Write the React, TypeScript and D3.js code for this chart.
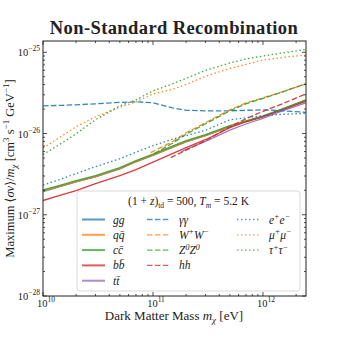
import React from 'react';
import * as d3 from 'd3';

const masses = [1e10, 1.5e10, 2e10, 3e10, 5e10, 7e10, 1e11, 1.5e11, 2e11, 3e11, 5e11, 7e11, 1e12, 1.5e12, 2.45e12];
const ggVals = [1.93e-27, 2.27e-27, 2.54e-27, 2.93e-27, 3.67e-27, 4.49e-27, 5.38e-27, 6.75e-27, 7.9e-27, 9.4e-27, 1.21e-26, 1.40e-26, 1.62e-26, 1.98e-26, 2.55e-26];
const qqVals = [1.95e-27, 2.29e-27, 2.56e-27, 2.95e-27, 3.70e-27, 4.52e-27, 5.42e-27, 6.80e-27, 7.95e-27, 9.45e-27, 1.22e-26, 1.41e-26, 1.63e-26, 1.99e-26, 2.57e-26];
const ccVals = [2.015e-27, 2.355e-27, 2.636e-27, 3.035e-27, 3.805e-27, 4.64e-27, 5.57e-27, 6.98e-27, 8.16e-27, 9.67e-27, 1.247e-26, 1.436e-26, 1.654e-26, 2.015e-26, 2.60e-26];
const bbVals = [1.498e-27, 1.775e-27, 1.987e-27, 2.42e-27, 3.035e-27, 3.595e-27, 4.445e-27, 5.65e-27, 6.70e-27, 8.39e-27, 1.178e-26, 1.396e-26, 1.608e-26, 1.959e-26, 2.49e-26];
const ttMasses = [1.8e11, 2e11, 3e11, 5e11, 7e11, 1e12, 1.5e12, 2.45e12];
const ttVals = [5.9e-27, 6.4e-27, 8.0e-27, 1.10e-26, 1.31e-26, 1.54e-26, 1.9e-26, 2.39e-26];
const aaVals = [2.19e-26, 2.225e-26, 2.256e-26, 2.32e-26, 2.42e-26, 2.455e-26, 2.388e-26, 2.073e-26, 1.931e-26, 1.905e-26, 1.905e-26, 1.931e-26, 1.959e-26, 1.905e-26, 1.825e-26];
const wwMasses = [9.5e10, 1.5e11, 2e11, 3e11, 5e11, 7e11, 1e12, 1.5e12, 2.45e12];
const wwVals = [5.81e-27, 7.93e-27, 1.023e-26, 1.357e-26, 1.959e-26, 2.386e-26, 2.75e-26, 3.257e-26, 4.08e-26];
const zzMasses = [1.03e11, 1.5e11, 2e11, 3e11, 5e11, 7e11, 1e12, 1.5e12, 2.45e12];
const zzVals = [5.65e-27, 7.60e-27, 9.80e-27, 1.319e-26, 1.905e-26, 2.32e-26, 2.71e-26, 3.257e-26, 4.08e-26];
const hhMasses = [1.45e11, 2e11, 3e11, 5e11, 7e11, 1e12, 1.5e12, 2.45e12];
const hhVals = [5.05e-27, 6.24e-27, 8.16e-27, 1.212e-26, 1.519e-26, 1.878e-26, 2.32e-26, 3.077e-26];
const eeVals = [2.32e-27, 2.788e-27, 3.21e-27, 3.914e-27, 4.91e-27, 5.895e-27, 7.085e-27, 8.51e-27, 9.40e-27, 1.098e-26, 1.477e-26, 1.563e-26, 1.654e-26, 1.725e-26, 1.774e-26];
const mmVals = [6.64e-27, 9.40e-27, 1.212e-26, 1.608e-26, 2.10e-26, 2.455e-26, 3.077e-26, 3.496e-26, 4.03e-26, 5.05e-26, 6.33e-26, 7.08e-26, 8.04e-26, 8.63e-26, 9.27e-26];
const tauVals = [5.495e-27, 7.71e-27, 9.94e-27, 1.477e-26, 2.19e-26, 2.60e-26, 3.35e-26, 4.08e-26, 4.77e-26, 5.98e-26, 7.39e-26, 8.27e-26, 9.01e-26, 9.80e-26, 1.082e-25];

const xTickExps = [10, 11, 12];
const yTickExps = [-28, -27, -26, -25];

const C = { blue: '#1f77b4', orange: '#ff7f0e', green: '#2ca02c', red: '#d62728', purple: '#9467bd' };
const DASH = '5.5,2.4';
const DOT = '1.5,2.5';

type Series = { key: string; label: string; xs: number[]; ys: number[]; color: string; dash: string | null; col: number; row: number };

const series: Series[] = [
  { key: 'gg', label: 'gg', xs: masses, ys: ggVals, color: C.blue, dash: null, col: 0, row: 0 },
  { key: 'qq', label: 'qq\u0304', xs: masses, ys: qqVals, color: C.orange, dash: null, col: 0, row: 1 },
  { key: 'cc', label: 'cc\u0304', xs: masses, ys: ccVals, color: C.green, dash: null, col: 0, row: 2 },
  { key: 'bb', label: 'bb\u0304', xs: masses, ys: bbVals, color: C.red, dash: null, col: 0, row: 3 },
  { key: 'tt', label: 'tt\u0304', xs: ttMasses, ys: ttVals, color: C.purple, dash: null, col: 0, row: 4 },
  { key: 'aa', label: 'γγ', xs: masses, ys: aaVals, color: C.blue, dash: DASH, col: 1, row: 0 },
  { key: 'ww', label: 'W', xs: wwMasses, ys: wwVals, color: C.orange, dash: DASH, col: 1, row: 1 },
  { key: 'zz', label: 'Z', xs: zzMasses, ys: zzVals, color: C.green, dash: DASH, col: 1, row: 2 },
  { key: 'hh', label: 'hh', xs: hhMasses, ys: hhVals, color: C.red, dash: DASH, col: 1, row: 3 },
  { key: 'ee', label: 'e', xs: masses, ys: eeVals, color: C.blue, dash: DOT, col: 2, row: 0 },
  { key: 'mm', label: 'μ', xs: masses, ys: mmVals, color: C.orange, dash: DOT, col: 2, row: 1 },
  { key: 'tau', label: 'τ', xs: masses, ys: tauVals, color: C.green, dash: DOT, col: 2, row: 2 },
];

const FONT = '"Liberation Serif", "DejaVu Serif", serif';

const L = 43, R = 306, T = 41, B = 296;

function SupLabel({ x, y, base, sup, anchor }: { x: number; y: number; base: string; sup: string; anchor: 'start' | 'middle' | 'end' }) {
  return (
    <text x={x} y={y} textAnchor={anchor} fontSize={10.5} fontFamily={FONT} fill="#222">
      {base}
      <tspan dy={-5} fontSize={7.5}>{sup}</tspan>
    </text>
  );
}

function legendLabel(s: Series) {
  const sp = (t: string) => <tspan dy={-4.5} fontSize={8}>{t}</tspan>;
  const back = (t: string) => <tspan dy={4.5}>{t}</tspan>;
  switch (s.key) {
    case 'ww': return <>W{sp('+')}{back('W')}{sp('−')}</>;
    case 'zz': return <>Z{sp('0')}{back('Z')}{sp('0')}</>;
    case 'ee': return <>e{sp('+')}{back('e')}{sp('−')}</>;
    case 'mm': return <>μ{sp('+')}{back('μ')}{sp('−')}</>;
    case 'tau': return <>τ{sp('+')}{back('τ')}{sp('−')}</>;
    default: return <>{s.label}</>;
  }
}

export default function App() {
  const x = d3.scaleLog().domain([1e10, 2.46e12]).range([L, R]);
  const y = d3.scaleLog().domain([1e-28, Math.pow(10, -24.861)]).range([B, T]);
  const line = (xs: number[], ys: number[]) =>
    d3.line<number>().x((_, i) => x(xs[i])).y((_, i) => y(ys[i]))(ys) || '';

  const xMinor: number[] = [];
  for (let e = 10; e <= 12; e++) for (let k = 2; k <= 9; k++) { const v = k * Math.pow(10, e); if (v <= 2.46e12) xMinor.push(v); }
  const yMinor: number[] = [];
  for (let e = -28; e <= -25; e++) for (let k = 2; k <= 9; k++) { const v = k * Math.pow(10, e); if (v <= Math.pow(10, -24.861)) yMinor.push(v); }

  const legX = 77, legY = 191, legW = 223, legH = 100;
  const colHandle = [82, 147, 237];
  const colText = [113, 179, 269];
  const rowY = (r: number) => 219.5 + r * 15.3;

  return (
    <svg width={340} height={340} style={{ position: 'absolute', left: 0, top: 0, background: '#fff' }} fontFamily={FONT}>
      <defs>
        <clipPath id="plotclip"><rect x={L} y={T} width={R - L} height={B - T} /></clipPath>
      </defs>
      <rect x={0} y={0} width={340} height={340} fill="#fff" />
      <text x={174} y={34} textAnchor="middle" fontSize={18.5} fontWeight="bold" letterSpacing={0.4} fill="#222">Non-Standard Recombination</text>

      <g clipPath="url(#plotclip)">
        {series.map(s => (
          <path key={s.key} d={line(s.xs, s.ys)} fill="none" stroke={s.color} strokeWidth={1.3}
            strokeDasharray={s.dash || undefined} opacity={0.9} />
        ))}
      </g>

      <g stroke="#222" strokeWidth={0.8}>
        {xTickExps.map(e => { const px = x(Math.pow(10, e)); return (
          <g key={'xt' + e}><line x1={px} x2={px} y1={B} y2={B - 4} /><line x1={px} x2={px} y1={T} y2={T + 4} /></g>); })}
        {xMinor.map((v, i) => { const px = x(v); return (
          <g key={'xm' + i}><line x1={px} x2={px} y1={B} y2={B - 2} /><line x1={px} x2={px} y1={T} y2={T + 2} /></g>); })}
        {yTickExps.map(e => { const py = y(Math.pow(10, e)); return (
          <g key={'yt' + e}><line x1={L} x2={L + 4} y1={py} y2={py} /><line x1={R} x2={R - 4} y1={py} y2={py} /></g>); })}
        {yMinor.map((v, i) => { const py = y(v); return (
          <g key={'ym' + i}><line x1={L} x2={L + 2} y1={py} y2={py} /><line x1={R} x2={R - 2} y1={py} y2={py} /></g>); })}
      </g>
      <rect x={L} y={T} width={R - L} height={B - T} fill="none" stroke="#222" strokeWidth={1} />

      {xTickExps.map(e => <SupLabel key={'xl' + e} x={x(Math.pow(10, e)) + 3} y={307} base="10" sup={String(e)} anchor="middle" />)}
      {yTickExps.map(e => <SupLabel key={'yl' + e} x={40} y={y(Math.pow(10, e)) + 4} base="10" sup={'−' + Math.abs(e)} anchor="end" />)}

      <text x={174} y={320} textAnchor="middle" fontSize={13} fill="#222">
        Dark Matter Mass <tspan fontStyle="italic">m</tspan><tspan dy={3} fontSize={9} fontStyle="italic">χ</tspan><tspan dy={-3}> [eV]</tspan>
      </text>
      <text transform={`translate(14,${(T + B) / 2}) rotate(-90)`} textAnchor="middle" fontSize={12.5} fill="#222">
        Maximum ⟨<tspan fontStyle="italic">σv</tspan>⟩/<tspan fontStyle="italic">m</tspan><tspan dy={3} fontSize={9} fontStyle="italic">χ</tspan><tspan dy={-3}> [cm</tspan><tspan dy={-5} fontSize={9}>3</tspan><tspan dy={5}> s</tspan><tspan dy={-5} fontSize={9}>−1</tspan><tspan dy={5}> GeV</tspan><tspan dy={-5} fontSize={9}>−1</tspan><tspan dy={5}>]</tspan>
      </text>

      <rect x={legX} y={legY} width={legW} height={legH} rx={3} fill="#fff" fillOpacity={0.85} stroke="#d0d0d0" strokeWidth={0.8} />
      <text x={legX + legW / 2} y={205} textAnchor="middle" fontSize={11.5} fill="#222">
        (1 + <tspan fontStyle="italic">z</tspan>)<tspan dy={2.5} fontSize={7.5}>td</tspan><tspan dy={-2.5}> = 500, </tspan><tspan fontStyle="italic">T</tspan><tspan dy={2.5} fontSize={7.5} fontStyle="italic">m</tspan><tspan dy={-2.5}> = 5.2 K</tspan>
      </text>
      {series.map(s => {
        const yy = rowY(s.row);
        return (
          <g key={'lg' + s.key}>
            <line x1={colHandle[s.col]} x2={colHandle[s.col] + 23} y1={yy} y2={yy} stroke={s.color}
              strokeWidth={s.dash ? 1.3 : 2} strokeDasharray={s.dash || undefined} opacity={0.75} />
            <text x={colText[s.col]} y={yy + 4} fontSize={11.5} fontStyle="italic" fill="#222">{legendLabel(s)}</text>
          </g>
        );
      })}
    </svg>
  );
}
